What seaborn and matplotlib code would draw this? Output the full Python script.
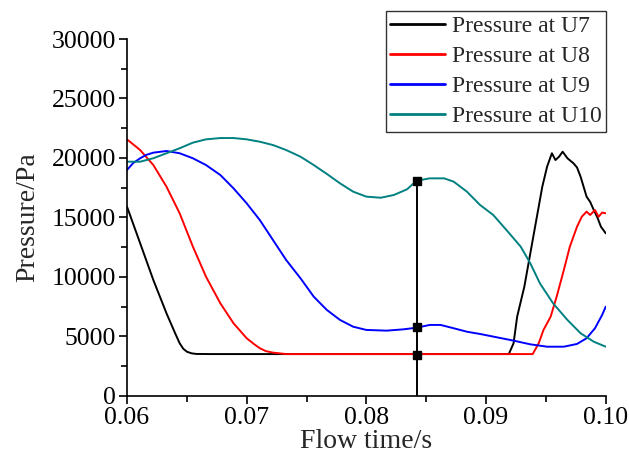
import numpy as np
import pandas as pd
import matplotlib
matplotlib.use("Agg")
import matplotlib.pyplot as plt
import seaborn as sns
from matplotlib.ticker import MultipleLocator, FormatStrFormatter

# ---- data ----
u7_t = [0.0600, 0.0611, 0.0622, 0.0633, 0.0640, 0.0644, 0.0647, 0.0650, 0.0654, 0.0658, 0.0670, 0.0800, 0.0919,
        0.0923, 0.0926, 0.0932, 0.0937, 0.0943, 0.0947, 0.0951, 0.0955, 0.0958, 0.0961,
        0.0964, 0.0968, 0.0973, 0.0976, 0.0979, 0.0984, 0.0987, 0.0990, 0.0993, 0.0996, 0.1000]
u7_p = [15900, 12820, 9730, 6930, 5300, 4410, 3950, 3700, 3560, 3510, 3500, 3500, 3500,
        4410, 6650, 9170, 11980, 15340, 17580, 19260, 20390, 19820, 20100,
        20520, 19970, 19550, 19200, 18420, 16740, 16300, 15620, 15000, 14210, 13660]

u8_t = [0.0600, 0.0611, 0.0622, 0.0633, 0.0644, 0.0655, 0.0666, 0.0678, 0.0689, 0.0700,
        0.0706, 0.0711, 0.0716, 0.0722, 0.0733, 0.0800, 0.0900, 0.0939, 0.0944, 0.0948, 0.0954, 0.0959,
        0.0965, 0.0970, 0.0976, 0.0980, 0.0984, 0.0987, 0.0991, 0.0994, 0.0997, 0.1000]
u8_p = [21560, 20660, 19400, 17580, 15340, 12550, 10010, 7770, 6090, 4830,
        4350, 3990, 3750, 3620, 3500, 3500, 3500, 3500, 4410, 5530, 6650, 8330,
        10570, 12530, 14210, 15050, 15480, 15200, 15620, 15050, 15400, 15340]

u9_t = [0.0600, 0.0605, 0.0611, 0.0616, 0.0622, 0.0633, 0.0644, 0.0655, 0.0666, 0.0678, 0.0689, 0.0700,
        0.0711, 0.0722, 0.0733, 0.0745, 0.0756, 0.0767, 0.0778, 0.0789, 0.0800, 0.0817,
        0.0831, 0.0842, 0.0853, 0.0862, 0.0873, 0.0884, 0.0895, 0.0909, 0.0923, 0.0937,
        0.0951, 0.0965, 0.0976, 0.0984, 0.0991, 0.0997, 0.1000]
u9_p = [18980, 19550, 19970, 20250, 20440, 20580, 20390, 19970, 19400, 18560, 17440, 16180,
        14770, 13090, 11410, 9870, 8330, 7210, 6370, 5800, 5530, 5470,
        5580, 5720, 5950, 5950, 5670, 5380, 5190, 4910, 4630, 4320,
        4120, 4120, 4350, 4830, 5670, 6790, 7490]

u10_t = [0.0600, 0.0611, 0.0622, 0.0633, 0.0644, 0.0655, 0.0666, 0.0678, 0.0689, 0.0700,
         0.0711, 0.0722, 0.0733, 0.0745, 0.0756, 0.0767, 0.0778, 0.0789, 0.0800, 0.0812,
         0.0823, 0.0834, 0.0842, 0.0853, 0.0865, 0.0873, 0.0884, 0.0895, 0.0906, 0.0917,
         0.0929, 0.0937, 0.0945, 0.0956, 0.0968, 0.0979, 0.0990, 0.1000]
u10_p = [19680, 19680, 19970, 20390, 20810, 21280, 21560, 21670, 21670, 21560,
         21360, 21080, 20660, 20100, 19400, 18650, 17860, 17160, 16740, 16650,
         16880, 17360, 18080, 18280, 18280, 18000, 17160, 16040, 15200, 13940,
         12530, 11130, 9450, 7770, 6370, 5250, 4540, 4120]

cursor_t = [0.0842, 0.0842, 0.0842, 0.0842]
cursor_p = [0, 3450, 5750, 18080]
marker_p = [3450, 5750, 18080]

labels = ["Pressure at U7", "Pressure at U8", "Pressure at U9", "Pressure at U10"]
colors = ["#000000", "#FF0000", "#0000FF", "#008080"]

frames = []
for lab, t, p in zip(labels, [u7_t, u8_t, u9_t, u10_t], [u7_p, u8_p, u9_p, u10_p]):
    frames.append(pd.DataFrame({"t": t, "p": p, "series": lab}))
df = pd.concat(frames, ignore_index=True)

sns.set_style("ticks")
plt.rcParams["font.family"] = ["Liberation Serif", "DejaVu Serif"]

fig = plt.figure(figsize=(6.29, 4.66), dpi=100)
ax = fig.add_axes([0.2019, 0.1509, 0.7611, 0.7654])

sns.lineplot(data=df, x="t", y="p", hue="series", hue_order=labels,
             palette=colors, sort=False, estimator=None, linewidth=1.4, ax=ax)

# vertical cursor with square markers
ax.plot(cursor_t, cursor_p, color="black", linewidth=1.4, zorder=5)
ax.plot(cursor_t[1:], marker_p, linestyle="none", marker="s", markersize=6,
        color="black", zorder=6)

ax.set_xlim(0.06, 0.10)
ax.set_ylim(0, 30000)
ax.xaxis.set_major_locator(MultipleLocator(0.01))
ax.xaxis.set_minor_locator(MultipleLocator(0.005))
ax.yaxis.set_major_locator(MultipleLocator(5000))
ax.yaxis.set_minor_locator(MultipleLocator(2500))
ax.xaxis.set_major_formatter(FormatStrFormatter("%.2f"))
ax.yaxis.set_major_formatter(FormatStrFormatter("%d"))
ax.tick_params(axis="both", which="major", direction="out", length=6, width=1.2,
               labelsize=18.5, color="black", labelcolor="black", pad=2)
ax.tick_params(axis="both", which="minor", direction="out", length=4, width=1.2,
               color="black")
for s in ["top", "right"]:
    ax.spines[s].set_visible(False)
for s in ["left", "bottom"]:
    ax.spines[s].set_linewidth(1.2)
    ax.spines[s].set_color("black")

ax.set_xlabel("Flow time/s", fontsize=20, labelpad=0)
ax.set_ylabel("Pressure/Pa", fontsize=20, labelpad=8)

leg = ax.legend(loc="upper right", bbox_to_anchor=(0.964, 0.977),
                bbox_transform=fig.transFigure, fontsize=17, frameon=True,
                fancybox=False, edgecolor="black", handlelength=2.3,
                handletextpad=0.3, labelspacing=0.36, borderpad=0.2,
                borderaxespad=0)
leg.get_frame().set_linewidth(1.0)
for line in leg.get_lines():
    line.set_linewidth(2.0)

fig.savefig("out.png", dpi=100)
